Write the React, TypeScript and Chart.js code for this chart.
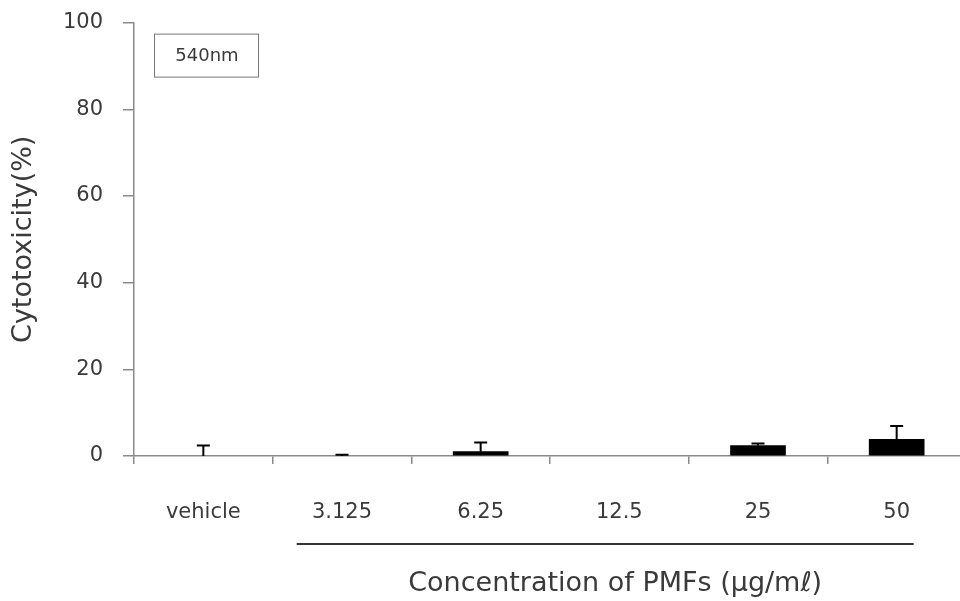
import React, { useEffect, useRef } from "react";
import { Chart, registerables } from "chart.js";

Chart.register(...registerables);

const categories = ["vehicle", "3.125", "6.25", "12.5", "25", "50"];
const meanValues = [0, 0, 1.0, 0, 2.4, 3.85];
const errorValues = [2.4, 0.3, 2.1, 0, 0.5, 3.05];
const yTicks = [0, 20, 40, 60, 80, 100];
const legendLabel = "540nm";
const xTitle = "Concentration of PMFs (\u03bcg/m\u2113)";
const yTitle = "Cytotoxicity(%)";

const FONT = "'DejaVu Sans', 'Liberation Sans', Arial, sans-serif";
const TEXT = "#3a3a3a";
const AXIS = "#8a8a8a";

const extrasPlugin = {
  id: "extras",
  afterDatasetsDraw(chart: any) {
    const ctx = chart.ctx;
    const x = chart.scales.x;
    const y = chart.scales.y;
    ctx.save();
    // error bars
    ctx.strokeStyle = "#000";
    ctx.lineWidth = 2;
    meanValues.forEach((v, i) => {
      const e = errorValues[i];
      if (!e) return;
      const cx = x.getPixelForValue(i);
      const y0 = y.getPixelForValue(v);
      const y1 = y.getPixelForValue(v + e);
      ctx.beginPath();
      ctx.moveTo(cx, y0);
      ctx.lineTo(cx, y1);
      ctx.moveTo(cx - 6.5, y1);
      ctx.lineTo(cx + 6.5, y1);
      ctx.stroke();
    });
    // legend box
    const area = chart.chartArea;
    const bx = area.left + 20;
    const by = area.top + 11;
    ctx.fillStyle = "#fff";
    ctx.fillRect(bx, by, 105, 44);
    ctx.strokeStyle = "#777";
    ctx.lineWidth = 1;
    ctx.strokeRect(bx + 0.5, by + 0.5, 104, 43);
    ctx.fillStyle = TEXT;
    ctx.font = `18px ${FONT}`;
    ctx.textAlign = "center";
    ctx.textBaseline = "middle";
    ctx.fillText(legendLabel, bx + 53, by + 23);
    // underline under concentration labels
    const lx0 = (x.getPixelForValue(0) + x.getPixelForValue(1)) / 2 + 24;
    const lx1 = x.getPixelForValue(5) + 17;
    const ly = area.bottom + 88;
    ctx.strokeStyle = "#333";
    ctx.lineWidth = 2;
    ctx.beginPath();
    ctx.moveTo(lx0, ly);
    ctx.lineTo(lx1, ly);
    ctx.stroke();
    // x title
    ctx.fillStyle = TEXT;
    ctx.font = `27px ${FONT}`;
    ctx.textAlign = "center";
    ctx.textBaseline = "middle";
    ctx.fillText(xTitle, (lx0 + lx1) / 2 + 10, area.bottom + 128);
    ctx.restore();
  },
};

export default function App() {
  const ref = useRef<HTMLCanvasElement | null>(null);

  useEffect(() => {
    if (!ref.current) return;
    const chart = new Chart(ref.current, {
      type: "bar",
      data: {
        labels: categories,
        datasets: [
          {
            data: meanValues,
            backgroundColor: (c: any) => (c.raw === 0 ? "rgba(0,0,0,0)" : "#000"),
            borderWidth: 0,
            barThickness: 55,
          },
        ],
      },
      options: {
        responsive: false,
        animation: false,
        devicePixelRatio: 1,
        layout: { padding: { top: 12, right: 4, bottom: 0, left: 0 } },
        plugins: {
          legend: { display: false },
          tooltip: { enabled: false },
        },
        scales: {
          x: {
            offset: true,
            grid: {
              offset: true,
              drawOnChartArea: false,
              color: AXIS,
              tickLength: 8,
              lineWidth: 1.5,
            },
            border: { color: AXIS, width: 1.5 },
            ticks: {
              color: TEXT,
              font: { family: FONT, size: 21 },
              padding: 36,
              maxRotation: 0,
              autoSkip: false,
            },
            afterFit: (s: any) => {
              s.height = 145;
            },
          },
          y: {
            min: 0,
            max: 100,
            afterBuildTicks: (s: any) => {
              s.ticks = yTicks.map((v) => ({ value: v }));
            },
            grid: {
              drawOnChartArea: false,
              color: AXIS,
              tickLength: 11,
              lineWidth: 1.5,
            },
            border: { color: AXIS, width: 1.5 },
            ticks: {
              color: TEXT,
              font: { family: FONT, size: 21 },
              padding: 20,
            },
            title: {
              display: true,
              text: yTitle,
              color: TEXT,
              font: { family: FONT, size: 27 },
              padding: { top: 8, bottom: 0 },
            },
            afterFit: (s: any) => {
              s.width = 134;
            },
          },
        },
      },
      plugins: [extrasPlugin],
    });
    return () => chart.destroy();
  }, []);

  return (
    <div
      style={{
        position: "fixed",
        left: 0,
        top: 0,
        width: 960,
        height: 601,
        overflow: "hidden",
        background: "#fff",
      }}
    >
      <canvas
        ref={ref}
        width={970}
        height={611}
        style={{ display: "block", marginTop: -10 }}
      />
    </div>
  );
}
